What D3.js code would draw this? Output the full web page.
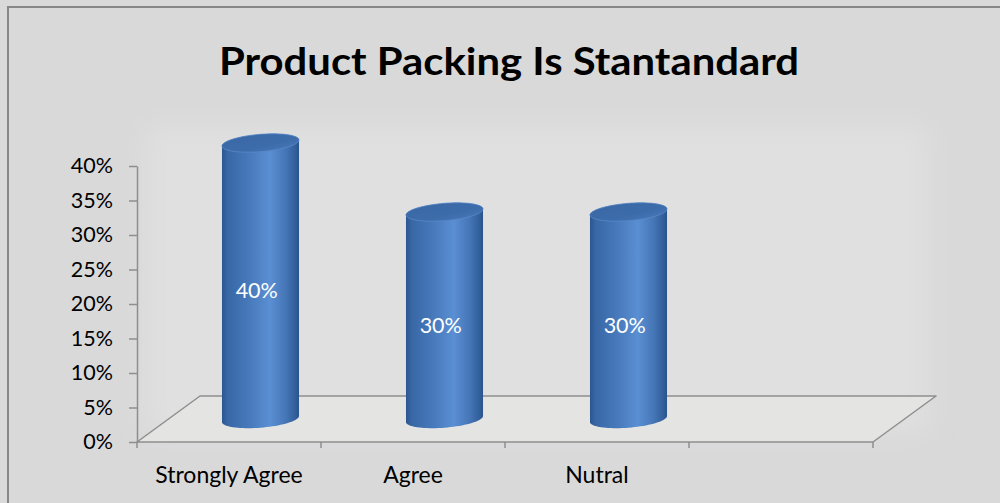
<!DOCTYPE html>
<html>
<head>
<meta charset="utf-8">
<script src="https://cdn.jsdelivr.net/npm/d3@7"></script>
<style>
  html, body { margin: 0; padding: 0; background: #d9d9d9; }
  svg { display: block; font-family: Lato, "Open Sans", sans-serif; }
</style>
</head>
<body>
<div id="container"></div>
<script>
// Chart data
const title = "Product Packing Is Stantandard";
const categories = ["Strongly Agree", "Agree", "Nutral", ""];
const values = [0.40, 0.30, 0.30, null];
const valueLabels = ["40%", "30%", "30%", ""];
const yTicks = [0, 0.05, 0.10, 0.15, 0.20, 0.25, 0.30, 0.35, 0.40];

const width = 1000;
const height = 503;

// plot area (front plane of the floor)
const plot = { left: 137, right: 873, top: 166, bottom: 442 };
// oblique depth vector for the full floor depth
const depth = { dx: 63, dy: -46 };

const labelSize = '21.5px';
const catSize = '23px';

const svg = d3.select('#container').append('svg')
    .attr('width', width)
    .attr('height', height);

const defs = svg.append('defs');

// soft lighter wall behind the plot
defs.append('filter').attr('id', 'soft')
    .attr('x', '-20%').attr('y', '-20%').attr('width', '140%').attr('height', '140%')
    .append('feGaussianBlur').attr('stdDeviation', 12);

// cylinder body gradient
const bodyGrad = defs.append('linearGradient').attr('id', 'body')
    .attr('x1', 0).attr('x2', 1).attr('y1', 0).attr('y2', 0);
[[0, '#2b5690'], [0.07, '#3867a5'], [0.35, '#4779bb'], [0.62, '#5a8fd3'], [0.82, '#4677b8'], [0.95, '#33609c'], [1, '#2a538b']]
    .forEach(s => bodyGrad.append('stop').attr('offset', s[0]).attr('stop-color', s[1]));

// cylinder top gradient
const topGrad = defs.append('linearGradient').attr('id', 'top')
    .attr('x1', 0).attr('x2', 1).attr('y1', 0).attr('y2', 1);
[[0, '#3a67a3'], [0.6, '#3d6cab'], [1, '#4a7cbd']]
    .forEach(s => topGrad.append('stop').attr('offset', s[0]).attr('stop-color', s[1]));

// background + frame
svg.append('rect')
    .attr('x', 0).attr('y', 0).attr('width', width).attr('height', height)
    .attr('fill', '#d9d9d9');

// Scales
const xScale = d3.scaleBand()
    .domain(categories)
    .range([plot.left, plot.right]);

const yScale = d3.scaleLinear()
    .domain([0, 0.40])
    .range([plot.bottom, plot.top]);

// project a point of the front plane back by a fraction of the depth
function proj(x, y, d) {
    return [x + d * depth.dx, y + d * depth.dy];
}

// lighter wall glow
svg.append('rect')
    .attr('x', plot.left + 10)
    .attr('y', yScale(0.40) - 40)
    .attr('width', plot.right - plot.left + depth.dx - 20)
    .attr('height', plot.bottom - yScale(0.40) + 30)
    .attr('fill', '#e0e0e0')
    .attr('filter', 'url(#soft)');

svg.append('rect')
    .attr('x', 8).attr('y', 7).attr('width', width + 20).attr('height', height + 20)
    .attr('fill', 'none')
    .attr('stroke', '#878787')
    .attr('stroke-width', 2);

// Floor
const floorPts = [
    proj(plot.left, yScale(0), 0),
    proj(plot.right, yScale(0), 0),
    proj(plot.right, yScale(0), 1),
    proj(plot.left, yScale(0), 1)
];
svg.append('polygon')
    .attr('points', floorPts.map(p => p.join(',')).join(' '))
    .attr('fill', '#e4e4e3')
    .attr('stroke', '#8e8e8e')
    .attr('stroke-width', 1.5)
    .attr('stroke-linejoin', 'round');

// Y-Axis
const yAxis = svg.append('g')
    .attr('transform', 'translate(' + plot.left + ',0)')
    .call(d3.axisLeft(yScale)
        .tickValues(yTicks)
        .tickFormat(d3.format('.0%'))
        .tickSize(8)
        .tickSizeOuter(0)
        .tickPadding(16));
yAxis.select('.domain').attr('stroke', '#8e8e8e').attr('stroke-width', 1.5);
yAxis.selectAll('.tick line').attr('stroke', '#8e8e8e').attr('stroke-width', 1.5);
yAxis.selectAll('.tick text')
    .attr('fill', '#000')
    .style('font-family', 'Lato, "Open Sans", sans-serif')
    .style('font-size', labelSize);

// X-Axis ticks at category boundaries
const bounds = categories.map(c => xScale(c)).concat([plot.right]);
svg.append('g').selectAll('line')
    .data(bounds)
    .enter()
    .append('line')
    .attr('x1', d => d).attr('x2', d => d)
    .attr('y1', yScale(0)).attr('y2', yScale(0) + 6)
    .attr('stroke', '#8e8e8e')
    .attr('stroke-width', 1.5);

svg.append('g').selectAll('text')
    .data(categories)
    .enter()
    .append('text')
    .attr('x', d => xScale(d) + xScale.bandwidth() / 2)
    .attr('y', yScale(0) + 41)
    .attr('text-anchor', 'middle')
    .attr('fill', '#000')
    .style('font-size', catSize)
    .text(d => d);

// Cylinders
const rx = 36.4;      // horizontal radius
const rd = 0.2;       // radius along depth (fraction of depth)
const barDepth = 0.5; // bars stand at the middle of the floor depth

function ellipsePoint(cx, cy, t) {
    return [cx + rx * Math.cos(t) + rd * depth.dx * Math.sin(t),
            cy + rd * depth.dy * Math.sin(t)];
}

const tR = Math.atan2(rd * depth.dx, rx);
const steps = 40;

function bodyPath(cx, yTop, yBot) {
    const pts = [];
    for (let i = 0; i <= steps; i++) pts.push(ellipsePoint(cx, yBot, tR - Math.PI * i / steps));
    for (let i = 0; i <= steps; i++) pts.push(ellipsePoint(cx, yTop, tR + Math.PI - Math.PI * i / steps));
    return d3.line()(pts) + 'Z';
}

function topPath(cx, yTop) {
    const pts = d3.range(0, 72).map(i => ellipsePoint(cx, yTop, 2 * Math.PI * i / 72));
    return d3.line()(pts) + 'Z';
}

const barData = categories
    .map((c, i) => ({ cat: c, value: values[i], label: valueLabels[i] }))
    .filter(d => d.value != null);

const bars = svg.append('g').selectAll('g')
    .data(barData)
    .enter()
    .append('g');

bars.each(function (d) {
    const g = d3.select(this);
    const base = proj(xScale(d.cat) + xScale.bandwidth() / 2, yScale(0), barDepth);
    const topPt = proj(xScale(d.cat) + xScale.bandwidth() / 2, yScale(d.value), barDepth);
    const cx = base[0];

    g.append('path')
        .attr('d', bodyPath(cx, topPt[1], base[1]))
        .attr('fill', 'url(#body)');

    g.append('path')
        .attr('d', topPath(cx, topPt[1]))
        .attr('fill', 'url(#top)')
        .attr('stroke', '#5a89c6')
        .attr('stroke-width', 0.8);

    // value label: middle of the bar, on its front side
    const lx = proj(xScale(d.cat) + xScale.bandwidth() / 2, 0, 0.44)[0];
    const ly = proj(0, yScale(d.value / 2), barDepth - rd)[1];
    g.append('text')
        .attr('x', lx)
        .attr('y', ly + 8)
        .attr('text-anchor', 'middle')
        .attr('fill', '#ffffff')
        .style('font-size', labelSize)
        .text(d.label);
});

// Title
svg.append('text')
    .attr('x', 509)
    .attr('y', 75)
    .attr('text-anchor', 'middle')
    .attr('fill', '#000')
    .style('font-weight', 'bold')
    .style('font-size', '38px')
    .attr('textLength', 580)
    .attr('lengthAdjust', 'spacingAndGlyphs')
    .text(title);
</script>
</body>
</html>
